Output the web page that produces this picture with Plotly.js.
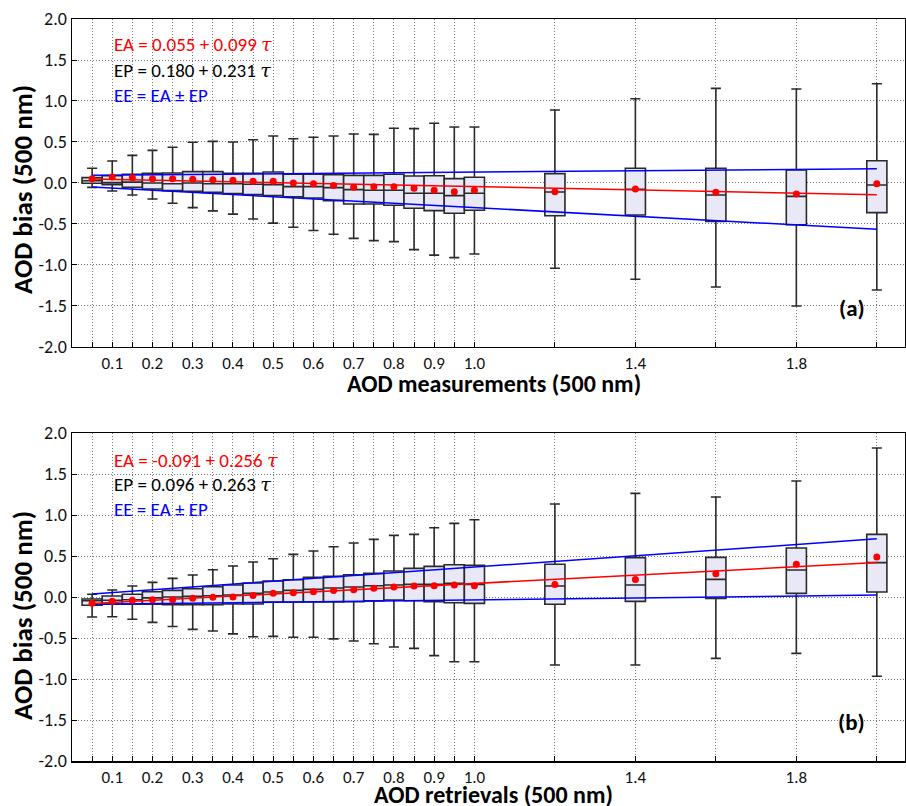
<!DOCTYPE html>
<html>
<head>
<meta charset="utf-8">
<script src="https://cdn.plot.ly/plotly-3.0.1.min.js"></script>
<style>html,body{margin:0;padding:0;background:#fff;}#chart{width:906px;height:806px;}</style>
</head>
<body>
<div id="chart"></div>
<script>
// Bin positions (AOD, 500 nm)
const xPos = [0.05,0.10,0.15,0.20,0.25,0.30,0.35,0.40,0.45,0.50,0.55,0.60,0.65,0.70,0.75,0.80,0.85,0.90,0.95,1.00,1.2,1.4,1.6,1.8,2.0];
const tickVals = [0.05,0.10,0.15,0.20,0.25,0.30,0.35,0.40,0.45,0.50,0.55,0.60,0.65,0.70,0.75,0.80,0.85,0.90,0.95,1.00,1.2,1.4,1.6,1.8,2.0];
const tickText = ['','0.1','','0.2','','0.3','','0.4','','0.5','','0.6','','0.7','','0.8','','0.9','','1.0','','1.4','','1.8',''];
const yTickVals = [-2,-1.5,-1,-0.5,0,0.5,1,1.5,2];
const yTickText = ['-2.0','-1.5','-1.0','-0.5','0.0','0.5','1.0','1.5','2.0'];

// Panel (a): AOD measurements
const aHi   = [0.179,0.268,0.337,0.398,0.435,0.496,0.508,0.500,0.528,0.573,0.540,0.557,0.573,0.598,0.593,0.667,0.663,0.728,0.683,0.683,0.890,1.028,1.154,1.146,1.211];
const aQ3   = [0.065,0.089,0.106,0.118,0.122,0.138,0.138,0.118,0.118,0.134,0.106,0.106,0.100,0.093,0.093,0.106,0.085,0.089,0.053,0.069,0.114,0.179,0.179,0.159,0.272];
const aMed  = [0.028,0.004,0.010,0.000,-0.010,0.000,-0.010,-0.010,-0.016,-0.020,-0.045,-0.045,-0.057,-0.081,-0.089,-0.089,-0.126,-0.126,-0.154,-0.126,-0.110,-0.077,-0.146,-0.163,-0.024];
const aQ1   = [-0.004,-0.020,-0.053,-0.073,-0.093,-0.100,-0.114,-0.130,-0.142,-0.154,-0.170,-0.183,-0.215,-0.256,-0.256,-0.272,-0.309,-0.337,-0.370,-0.333,-0.400,-0.390,-0.470,-0.510,-0.362];
const aLo   = [-0.053,-0.098,-0.146,-0.195,-0.248,-0.300,-0.340,-0.380,-0.440,-0.490,-0.540,-0.580,-0.626,-0.675,-0.703,-0.715,-0.813,-0.880,-0.910,-0.866,-1.040,-1.175,-1.268,-1.500,-1.305];
const aMean = [0.053,0.073,0.065,0.053,0.053,0.045,0.040,0.032,0.020,0.020,0.000,-0.010,-0.030,-0.053,-0.045,-0.045,-0.065,-0.089,-0.106,-0.089,-0.106,-0.073,-0.114,-0.134,-0.008];

// Panel (b): AOD retrievals
const bHi   = [0.033,0.085,0.134,0.179,0.228,0.268,0.333,0.378,0.427,0.467,0.520,0.561,0.614,0.659,0.703,0.752,0.764,0.845,0.898,0.943,1.134,1.264,1.220,1.415,1.817];
const bQ3   = [-0.024,0.012,0.033,0.065,0.081,0.100,0.126,0.146,0.171,0.195,0.211,0.240,0.252,0.272,0.289,0.317,0.350,0.374,0.394,0.386,0.400,0.480,0.484,0.598,0.764];
const bMed  = [-0.045,-0.040,-0.033,-0.010,0.000,0.008,0.016,0.024,0.045,0.061,0.081,0.093,0.110,0.122,0.138,0.146,0.154,0.154,0.167,0.154,0.134,0.146,0.215,0.330,0.419];
const bQ1   = [-0.100,-0.089,-0.089,-0.089,-0.093,-0.093,-0.093,-0.085,-0.085,-0.061,-0.061,-0.061,-0.061,-0.057,-0.045,-0.037,-0.045,-0.057,-0.069,-0.077,-0.089,-0.053,-0.016,0.045,0.061];
const bLo   = [-0.244,-0.240,-0.272,-0.309,-0.360,-0.394,-0.415,-0.450,-0.484,-0.480,-0.490,-0.490,-0.510,-0.537,-0.570,-0.610,-0.626,-0.715,-0.790,-0.790,-0.830,-0.830,-0.748,-0.687,-0.967];
const bMean = [-0.077,-0.053,-0.040,-0.033,-0.033,-0.016,-0.004,0.000,0.020,0.045,0.053,0.065,0.081,0.089,0.106,0.122,0.134,0.138,0.146,0.138,0.154,0.215,0.285,0.400,0.488];

// Fitted lines (endpoints as drawn)
const lineX  = [0.05, 2.0];
const aEA    = [0.050, -0.143];
const aEEup  = [0.094, 0.174];
const aEElo  = [-0.049, -0.564];
const bEA    = [-0.078, 0.421];
const bEEup  = [0.037, 0.710];
const bEElo  = [-0.089, 0.024];

const FONT = "Carlito, 'Open Sans', sans-serif";
const boxStyle = {line:{color:'#2a2a2a', width:1.6}, fillcolor:'#e8e8f6', width:0.05, whiskerwidth:0.5, boxpoints:false, showlegend:false, hoverinfo:'skip'};

function panel(xa, ya, hi, q3, med, q1, lo, mean, ea, up, dn) {
  return [
    Object.assign({type:'box', x:xPos, q1:q1, median:med, q3:q3, lowerfence:lo, upperfence:hi, xaxis:xa, yaxis:ya}, boxStyle),
    {type:'scatter', mode:'lines', x:lineX, y:up, xaxis:xa, yaxis:ya, line:{color:'#0000ff', width:1.5}, showlegend:false, hoverinfo:'skip'},
    {type:'scatter', mode:'lines', x:lineX, y:dn, xaxis:xa, yaxis:ya, line:{color:'#0000ff', width:1.5}, showlegend:false, hoverinfo:'skip'},
    {type:'scatter', mode:'lines', x:lineX, y:ea, xaxis:xa, yaxis:ya, line:{color:'#ff0000', width:1.5}, showlegend:false, hoverinfo:'skip'},
    {type:'scatter', mode:'markers', x:xPos, y:mean, xaxis:xa, yaxis:ya, marker:{color:'#ff0000', size:7}, showlegend:false, hoverinfo:'skip'}
  ];
}

const data = [].concat(
  panel('x','y', aHi,aQ3,aMed,aQ1,aLo,aMean, aEA,aEEup,aEElo),
  panel('x2','y2', bHi,bQ3,bMed,bQ1,bLo,bMean, bEA,bEEup,bEElo)
);

function xax(anchor) {
  return {
    domain:[0,1], anchor:anchor, range:[0,2.07], tickmode:'array', tickvals:tickVals, ticktext:tickText,
    ticks:'inside', ticklen:5, tickcolor:'#000', tickfont:{family:FONT, size:17, color:'#111'},
    showgrid:true, gridcolor:'#777', griddash:'1px,2px', gridwidth:1,
    showline:true, linecolor:'#000', linewidth:1.5, mirror:true, zeroline:false
  };
}
function yax(domain, anchor) {
  return {
    domain:domain, anchor:anchor, range:[-2,2], tickmode:'array', tickvals:yTickVals, ticktext:yTickText,
    ticks:'inside', ticklen:5, tickcolor:'#000', tickfont:{family:FONT, size:18, color:'#111'},
    showgrid:true, gridcolor:'#777', griddash:'1px,2px', gridwidth:1,
    showline:true, linecolor:'#000', linewidth:1.5, mirror:true, zeroline:false
  };
}

const tau = "<span style=\"font-family:'DejaVu Serif'\"><i>τ</i></span>";
function ann(xref, yref, y, text, color) {
  return {xref:xref, yref:yref, x:0.1, y:y, xanchor:'left', yanchor:'middle', showarrow:false, text:text, font:{family:FONT, size:19, color:color}};
}
function title(x, y, text, angle, size) {
  return {xref:'paper', yref:'paper', x:x, y:y, xanchor:'center', yanchor:'middle', showarrow:false, textangle:angle, text:'<b>'+text+'</b>', font:{family:FONT, size:size, color:'#000'}};
}

const layout = {
  width:906, height:806,
  margin:{l:72, r:1, t:19, b:45},
  paper_bgcolor:'#fff', plot_bgcolor:'#fff',
  xaxis: xax('y'),
  yaxis: yax([0.558,1], 'x'),
  xaxis2: xax('y2'),
  yaxis2: yax([0,0.442], 'x2'),
  annotations:[
    ann('x','y', 1.695, 'EA = 0.055 + 0.099 '+tau, '#ff0000'),
    ann('x','y', 1.378, 'EP = 0.180 + 0.231 '+tau, '#000000'),
    ann('x','y', 1.073, 'EE = EA ± EP', '#0000ff'),
    {xref:'x', yref:'y', x:1.975, y:-1.53, xanchor:'right', yanchor:'middle', showarrow:false, text:'<b>(a)</b>', font:{family:FONT, size:23, color:'#000'}},
    ann('x2','y2', 1.662, 'EA = -0.091 + 0.256 '+tau, '#ff0000'),
    ann('x2','y2', 1.374, 'EP = 0.096 + 0.263 '+tau, '#000000'),
    ann('x2','y2', 1.07, 'EE = EA ± EP', '#0000ff'),
    {xref:'x2', yref:'y2', x:1.975, y:-1.52, xanchor:'right', yanchor:'middle', showarrow:false, text:'<b>(b)</b>', font:{family:FONT, size:23, color:'#000'}},
    title(0.5066, 0.5081, 'AOD measurements (500 nm)', 0, 24),
    title(0.5066, -0.0445, 'AOD retrievals (500 nm)', 0, 24),
    title(-0.060, 0.7695, 'AOD bias (500 nm)', -90, 27),
    title(-0.060, 0.1954, 'AOD bias (500 nm)', -90, 27)
  ]
};

Plotly.newPlot('chart', data, layout, {staticPlot:true});
</script>
</body>
</html>
